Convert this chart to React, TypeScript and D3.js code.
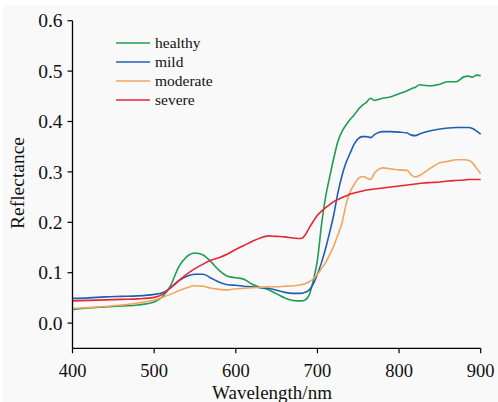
import * as d3 from "d3";

const W = 498;
const H = 402;
const MARGIN = { top: 20.7, right: 17.3, bottom: 53.7, left: 72.5 };

const wavelengths = [
  400, 420, 440, 460, 480, 500, 510, 520, 530, 540, 550, 560, 570, 580, 590, 600, 610, 620, 630, 640, 650,
  660, 670, 680, 685, 690, 695, 700, 705, 710, 715, 720, 725, 730, 735, 740, 745, 750, 755, 760, 765, 770,
  775, 780, 790, 800, 810, 815, 820, 825, 830, 840, 850, 860, 870, 880, 885, 890, 895, 900,
];

const healthy = [
  0.027, 0.03, 0.032, 0.034, 0.036, 0.042, 0.052, 0.074, 0.111, 0.132, 0.139, 0.135, 0.121, 0.104, 0.093, 0.09,
  0.087, 0.077, 0.071, 0.066, 0.058, 0.05, 0.045, 0.044, 0.046, 0.056, 0.085, 0.125, 0.195, 0.25, 0.29, 0.327,
  0.36, 0.38, 0.393, 0.404, 0.413, 0.424, 0.432, 0.438, 0.446, 0.442, 0.444, 0.446, 0.449, 0.455, 0.461, 0.465,
  0.468, 0.473, 0.472, 0.471, 0.474, 0.479, 0.479, 0.489, 0.49, 0.488, 0.492, 0.491,
];

const mild = [
  0.049, 0.05, 0.052, 0.053, 0.054, 0.057, 0.06, 0.07, 0.084, 0.093, 0.097, 0.097, 0.089, 0.081, 0.076, 0.075,
  0.073, 0.072, 0.07, 0.069, 0.065, 0.061, 0.059, 0.059, 0.061, 0.066, 0.078, 0.097, 0.12, 0.148, 0.18, 0.215,
  0.258, 0.292, 0.318, 0.337, 0.355, 0.366, 0.37, 0.37, 0.368, 0.374, 0.378, 0.38, 0.38, 0.379, 0.377, 0.373,
  0.372, 0.375, 0.378, 0.382, 0.385, 0.387, 0.388, 0.388, 0.388, 0.386, 0.381, 0.375,
];

const moderate = [
  0.029, 0.031, 0.033, 0.036, 0.04, 0.046, 0.051, 0.057, 0.064, 0.07, 0.074, 0.073, 0.069, 0.067, 0.066, 0.068,
  0.069, 0.07, 0.071, 0.072, 0.072, 0.073, 0.074, 0.076, 0.078, 0.082, 0.088, 0.097, 0.108, 0.12, 0.136, 0.153,
  0.175, 0.198, 0.235, 0.26, 0.275, 0.287, 0.291, 0.288, 0.285, 0.298, 0.305, 0.308, 0.306, 0.304, 0.303, 0.294,
  0.29, 0.293, 0.298, 0.309, 0.318, 0.321, 0.324, 0.324, 0.323, 0.318, 0.307, 0.297,
];

const severe = [
  0.044, 0.045, 0.046, 0.047, 0.048, 0.051, 0.057, 0.07, 0.084, 0.097, 0.108, 0.117, 0.125, 0.13, 0.137, 0.146,
  0.154, 0.162, 0.169, 0.173, 0.172, 0.171, 0.169, 0.168, 0.175, 0.189, 0.202, 0.214, 0.222, 0.229, 0.235, 0.241,
  0.245, 0.249, 0.252, 0.256, 0.258, 0.26, 0.262, 0.264, 0.265, 0.266, 0.267, 0.268, 0.27, 0.272, 0.274, 0.275,
  0.276, 0.277, 0.278, 0.279, 0.28, 0.282, 0.283, 0.284, 0.285, 0.285, 0.285, 0.285,
];

const seriesNames = ["healthy", "mild", "moderate", "severe"];
const seriesValues = [healthy, mild, moderate, severe];
const seriesColors = ["#1e9e50", "#1f5db5", "#f5a35e", "#ea2532"];

const xTicks = [400, 500, 600, 700, 800, 900];
const yTicks = [0.0, 0.1, 0.2, 0.3, 0.4, 0.5, 0.6];

const serif = { fontFamily: "'Liberation Serif', 'DejaVu Serif', serif" };

const App = () => {
  const x = d3.scaleLinear().domain([400, 900]).range([MARGIN.left, W - MARGIN.right]);
  const y = d3.scaleLinear().domain([-0.05, 0.6]).range([H - MARGIN.bottom, MARGIN.top]);

  const line = d3
    .line<number>()
    .x((_, i) => x(wavelengths[i]))
    .y((d) => y(d))
    .curve(d3.curveMonotoneX);

  const x0 = x(400);
  const x1 = x(900);
  const yBase = y(-0.05);
  const yTop = y(0.6);

  return (
    <div style={{ position: "absolute", left: 0, top: 0 }}>
      <svg width={W} height={H} style={{ display: "block", ...serif }}>
        <rect x={0} y={0} width={W} height={H} fill="#ffffff" />
        <rect x={3} y={5} width={W - 3} height={H - 5} fill="#f9f9f9" />

        {seriesValues.map((vals, i) => (
          <path key={seriesNames[i]} d={line(vals) ?? ""} fill="none" stroke={seriesColors[i]} strokeWidth={1.6} />
        ))}

        {/* axes */}
        <line x1={x0} x2={x0} y1={yTop} y2={yBase} stroke="#000" strokeWidth={1.3} />
        <line x1={x0} x2={x1} y1={yBase} y2={yBase} stroke="#000" strokeWidth={1.3} />

        {yTicks.map((t) => (
          <g key={t}>
            <line x1={x0 - 5} x2={x0} y1={y(t)} y2={y(t)} stroke="#000" strokeWidth={1.2} />
            <text x={x0 - 10} y={y(t)} dy="0.34em" textAnchor="end" style={serif} fontSize={19.5} fill="#111">
              {t.toFixed(1)}
            </text>
          </g>
        ))}

        {xTicks.map((t) => (
          <g key={t}>
            <line x1={x(t)} x2={x(t)} y1={yBase} y2={yBase + 5} stroke="#000" strokeWidth={1.2} />
            <text x={x(t)} y={376.5} textAnchor="middle" style={serif} fontSize={18.5} fill="#111">
              {t}
            </text>
          </g>
        ))}

        <text x={272} y={399} textAnchor="middle" style={serif} fontSize={19} fill="#111">
          Wavelength/nm
        </text>
        <text
          transform={`translate(24,183) rotate(-90)`}
          textAnchor="middle"
          style={serif}
          fontSize={19.5}
          fill="#111"
        >
          Reflectance
        </text>

        {/* legend */}
        {seriesNames.map((name, i) => (
          <g key={name} transform={`translate(116,${43 + i * 19})`}>
            <line x1={0} x2={34} y1={0} y2={0} stroke={seriesColors[i]} strokeWidth={1.6} />
            <text x={39} y={5} style={serif} fontSize={15.5} fill="#111">
              {name}
            </text>
          </g>
        ))}
      </svg>
    </div>
  );
};

export default App;
